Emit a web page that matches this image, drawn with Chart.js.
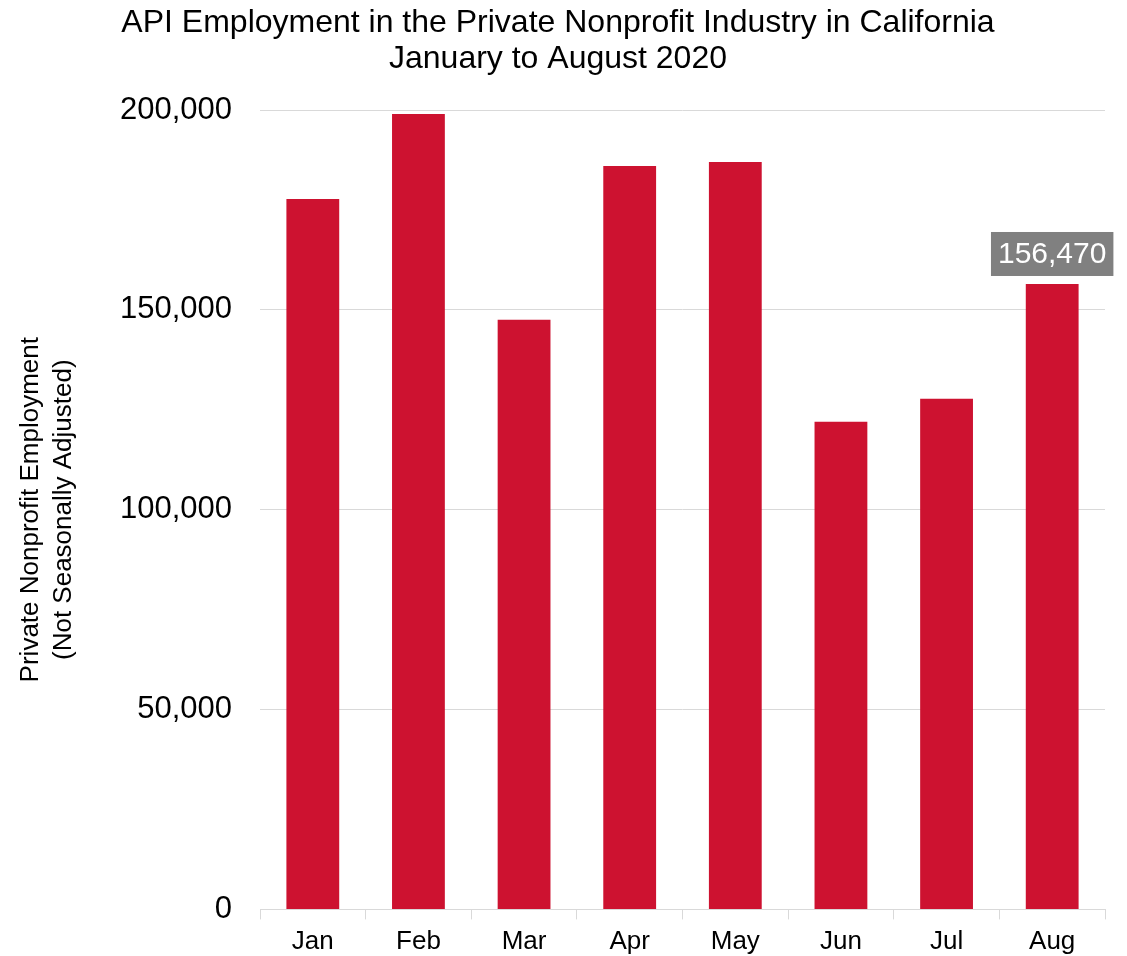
<!DOCTYPE html>
<html>
<head>
<meta charset="utf-8">
<script src="https://cdn.jsdelivr.net/npm/chart.js@4.4.0/dist/chart.umd.min.js"></script>
<style>
  html, body { margin: 0; padding: 0; background: #fff; }
  #wrap { width: 1127px; height: 956px; }
</style>
</head>
<body>
<div id="wrap"><canvas id="grafico"></canvas></div>
<script>
const meses = ["Jan", "Feb", "Mar", "Apr", "May", "Jun", "Jul", "Aug"];
const empregos = [177750, 199000, 147500, 186000, 187000, 122000, 127750, 156470];
const rotuloAgo = "156,470";
const ticksY = [0, 50000, 100000, 150000, 200000];

const fonte = "Arial, 'Liberation Sans', sans-serif";

// caixa cinza com o valor de agosto
const rotuloPlugin = {
  id: "rotuloAgo",
  afterDatasetsDraw(chart) {
    const ctx = chart.ctx;
    const bar = chart.getDatasetMeta(0).data[7];
    ctx.save();
    ctx.font = "30px " + fonte;
    const w = ctx.measureText(rotuloAgo).width + 14;
    const h = 44;
    const x = bar.x - w / 2;
    const y = bar.y - 8 - h;
    ctx.fillStyle = "#808080";
    ctx.fillRect(x, y, w, h);
    ctx.fillStyle = "#fff";
    ctx.textAlign = "center";
    ctx.textBaseline = "middle";
    ctx.fillText(rotuloAgo, bar.x, y + h / 2 + 1);
    ctx.restore();
  }
};

new Chart(document.getElementById("grafico"), {
  type: "bar",
  data: {
    labels: meses,
    datasets: [{
      data: empregos,
      backgroundColor: "#CD1230",
      categoryPercentage: 1,
      barPercentage: 0.5
    }]
  },
  options: {
    responsive: true,
    maintainAspectRatio: false,
    animation: false,
    layout: { padding: { left: 11, right: 22, top: 0, bottom: 0 } },
    plugins: {
      legend: { display: false },
      tooltip: { enabled: false },
      title: {
        display: true,
        text: ["API Employment in the Private Nonprofit Industry in California", "January to August 2020"],
        color: "#000",
        font: { family: fonte, size: 32, weight: "normal", lineHeight: 1.1 },
        padding: { top: 6, bottom: 33.6 }
      }
    },
    scales: {
      x: {
        grid: { display: true, drawOnChartArea: false, drawTicks: true, tickLength: 10, color: "#D9D9D9", offset: true },
        border: { display: true, color: "#D9D9D9" },
        ticks: { color: "#000", font: { family: fonte, size: 26 }, padding: 7 },
        afterFit(scale) { scale.height = 46; }
      },
      y: {
        min: 0,
        max: 200000,
        afterBuildTicks(scale) { scale.ticks = ticksY.map(v => ({ value: v })); },
        grid: { color: "#D9D9D9", drawTicks: false },
        border: { display: false },
        ticks: {
          color: "#000",
          padding: 28,
          font: { family: fonte, size: 31 },
          callback: v => v.toLocaleString("en-US")
        },
        title: {
          display: true,
          text: ["Private Nonprofit Employment", "(Not Seasonally Adjusted)"],
          color: "#000",
          font: { family: fonte, size: 26, lineHeight: 1.25 },
          padding: { top: 4, bottom: 0 }
        },
        afterFit(scale) { scale.width = 249; }
      }
    }
  },
  plugins: [rotuloPlugin]
});
</script>
</body>
</html>
